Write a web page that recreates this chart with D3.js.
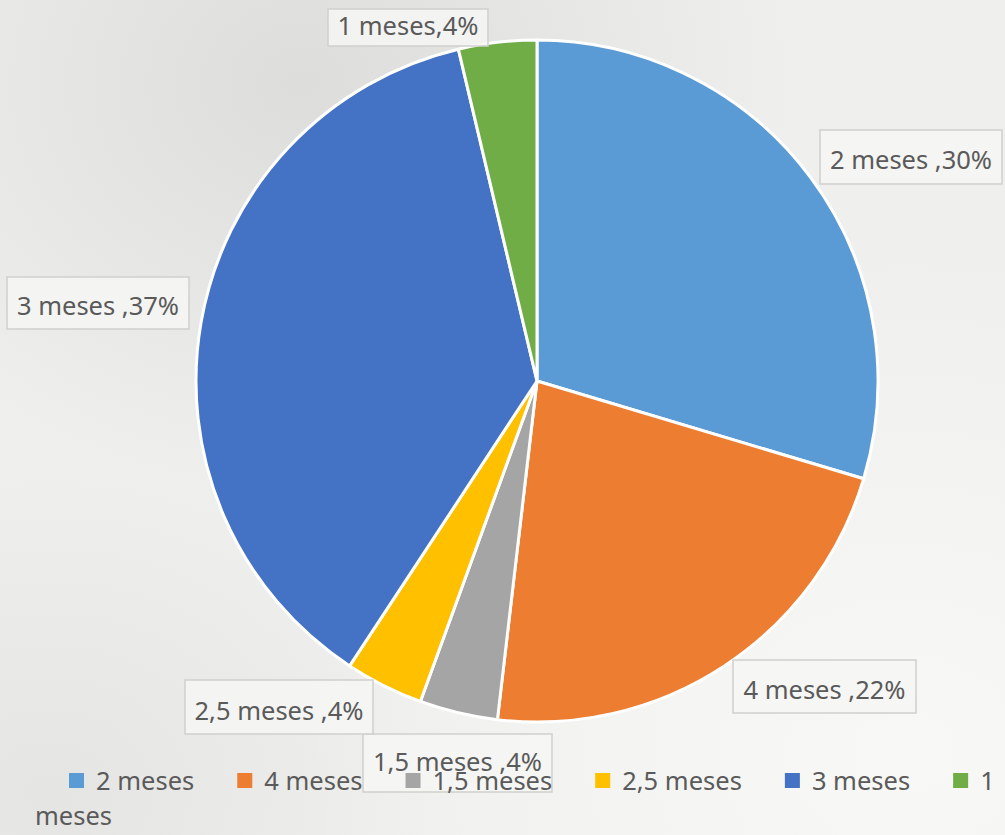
<!DOCTYPE html>
<html>
<head>
<meta charset="utf-8">
<script src="https://cdn.jsdelivr.net/npm/d3@7"></script>
<style>
  html, body { margin: 0; padding: 0; background: #efefed; }
  svg { display: block; }
</style>
</head>
<body>
<svg id="chart" width="1005" height="835"></svg>
<script>
// ---- data ----
const categories = ["2 meses", "4 meses", "1,5 meses", "2,5 meses", "3 meses", "1 meses"];
const counts = [8, 6, 1, 1, 10, 1];
const labelSeparators = [" ,", " ,", " ,", " ,", " ,", ","];
const legendOrder = ["2 meses", "4 meses", "1,5 meses", "2,5 meses", "3 meses", "1 meses"];

// ---- styles / layout ----
const colors = ["#5B9BD5", "#ED7D31", "#A5A5A5", "#FFC000", "#4472C4", "#70AD47"];
const W = 1005, H = 835;
const cx = 537, cy = 381, R = 341;
const fontFamily = "'Noto Sans', 'Open Sans', sans-serif";
const fontSize = 25.5;
const textColor = "#5a5a5a";
// label box rectangles (x, y, w, h) and text baselines
const labelBoxes = [
  {x: 820, y: 130, w: 182, h: 54},
  {x: 733, y: 660, w: 183, h: 53},
  {x: 363, y: 734, w: 189, h: 58},
  {x: 185, y: 680, w: 188, h: 54},
  {x: 7,   y: 277, w: 182, h: 52},
  {x: 328, y: 9,   w: 160, h: 37}
];
const labelBaselines = [169, 699, 771, 720, 315, 35];

const svg = d3.select("#chart");
const defs = svg.append("defs");

// paper-like background
const g1 = defs.append("radialGradient").attr("id", "bg1").attr("cx", "0.3").attr("cy", "0.1").attr("r", "0.5");
g1.append("stop").attr("offset", "0").attr("stop-color", "#d8d8d6").attr("stop-opacity", 0.8);
g1.append("stop").attr("offset", "1").attr("stop-color", "#d8d8d6").attr("stop-opacity", 0);
const g2 = defs.append("radialGradient").attr("id", "bg2").attr("cx", "0.9").attr("cy", "0.9").attr("r", "0.6");
g2.append("stop").attr("offset", "0").attr("stop-color", "#f8f8f6").attr("stop-opacity", 1);
g2.append("stop").attr("offset", "1").attr("stop-color", "#f8f8f6").attr("stop-opacity", 0);
const g3 = defs.append("radialGradient").attr("id", "bg3").attr("cx", "0.05").attr("cy", "0.95").attr("r", "0.4");
g3.append("stop").attr("offset", "0").attr("stop-color", "#e2e2e0").attr("stop-opacity", 0.8);
g3.append("stop").attr("offset", "1").attr("stop-color", "#e2e2e0").attr("stop-opacity", 0);

svg.append("rect").attr("width", W).attr("height", H).attr("fill", "#efefed");
svg.append("rect").attr("width", W).attr("height", H).attr("fill", "url(#bg1)");
svg.append("rect").attr("width", W).attr("height", H).attr("fill", "url(#bg3)");
svg.append("rect").attr("width", W).attr("height", H).attr("fill", "url(#bg2)");

// ---- pie ----
const total = d3.sum(counts);
const data = categories.map((c, i) => ({cat: c, value: counts[i], i}));
const color = d3.scaleOrdinal().domain(categories).range(colors);
const pie = d3.pie().value(d => d.value).sort(null);
const arc = d3.arc().innerRadius(0).outerRadius(R);

const gPie = svg.append("g").attr("transform", `translate(${cx},${cy})`);
gPie.selectAll("path").data(pie(data)).join("path")
  .attr("d", arc)
  .attr("fill", d => color(d.data.cat))
  .attr("stroke", "#ffffff")
  .attr("stroke-width", 3)
  .attr("stroke-linejoin", "round");

// ---- data labels ----
const gLab = svg.append("g");
data.forEach((d, i) => {
  const b = labelBoxes[i];
  const pct = Math.round(d.value / total * 100);
  gLab.append("rect")
    .attr("x", b.x).attr("y", b.y).attr("width", b.w).attr("height", b.h)
    .attr("fill", "#f6f6f4").attr("fill-opacity", 0.85)
    .attr("stroke", "#cfcfcd").attr("stroke-width", 1.5);
  gLab.append("text")
    .attr("x", b.x + b.w / 2).attr("y", labelBaselines[i])
    .attr("text-anchor", "middle")
    .attr("font-family", fontFamily).attr("font-size", fontSize)
    .attr("fill", textColor)
    .text(d.cat + labelSeparators[i] + pct + "%");
});

// ---- legend ----
const gLeg = svg.append("g");
let lx = 69, ly = 790;
const sq = 15, gapSq = 12, gapItem = 43, lineH = 35, leftWrap = 35;
legendOrder.forEach((name) => {
  gLeg.append("rect").attr("x", lx).attr("y", ly - 17).attr("width", sq).attr("height", sq)
    .attr("fill", color(name));
  const words = name.split(" ");
  let tx = lx + sq + gapSq;
  const t = gLeg.append("text").attr("x", tx).attr("y", ly)
    .attr("font-family", fontFamily).attr("font-size", fontSize).attr("fill", textColor)
    .text(name);
  let wdt = t.node().getComputedTextLength();
  if (tx + wdt > W) {
    // wrap: first word stays, rest on next line
    t.text(words[0]);
    gLeg.append("text").attr("x", leftWrap).attr("y", ly + lineH)
      .attr("font-family", fontFamily).attr("font-size", fontSize).attr("fill", textColor)
      .text(words.slice(1).join(" "));
    wdt = t.node().getComputedTextLength();
  }
  lx = tx + wdt + gapItem;
});
</script>
</body>
</html>
